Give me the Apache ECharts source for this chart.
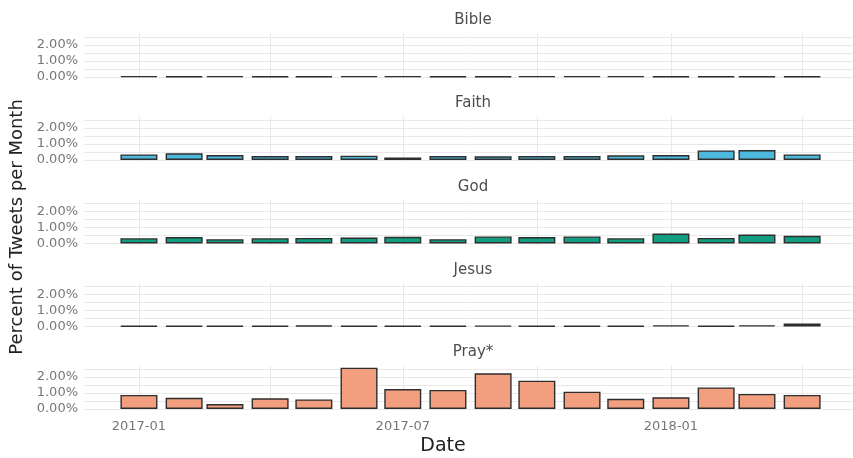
<!DOCTYPE html>
<html>
<head>
<meta charset="utf-8">
<script src="https://cdn.jsdelivr.net/npm/echarts@6/dist/echarts.min.js"></script>
<style>
  html, body { margin: 0; padding: 0; background: #fff; }
  #main { width: 853px; height: 458px; }
</style>
</head>
<body>
<div id="main"></div>
<script>
// months shown (one bar per month, centred on the 1st)
var months = ['2017-01', '2017-02', '2017-03', '2017-04', '2017-05', '2017-06', '2017-07', '2017-08',
  '2017-09', '2017-10', '2017-11', '2017-12', '2018-01', '2018-02', '2018-03', '2018-04'];

// percent of tweets per month, per keyword
var bible = [0.05, 0.04, 0.05, 0.04, 0.04, 0.05, 0.05, 0.04, 0.04, 0.05, 0.05, 0.05, 0.04, 0.04, 0.04, 0.03];
var faith = [0.35, 0.42, 0.31, 0.25, 0.25, 0.27, 0.15, 0.25, 0.23, 0.25, 0.25, 0.29, 0.31, 0.6, 0.62, 0.35];
var god = [0.33, 0.4, 0.27, 0.33, 0.35, 0.37, 0.42, 0.27, 0.44, 0.4, 0.44, 0.33, 0.62, 0.35, 0.56, 0.48];
var jesus = [0.04, 0.04, 0.04, 0.04, 0.06, 0.04, 0.04, 0.04, 0.05, 0.04, 0.04, 0.04, 0.08, 0.04, 0.08, 0.18];
var pray = [0.88, 0.7, 0.31, 0.67, 0.6, 2.58, 1.25, 1.19, 2.23, 1.77, 1.08, 0.64, 0.73, 1.35, 0.94, 0.88];

var panelNames = ['Bible', 'Faith', 'God', 'Jesus', 'Pray*'];
var panelData = [bible, faith, god, jesus, pray];
var panelColors = ['#8a8a8a', '#4cb8dc', '#129e80', '#26385a', '#f29f80'];

var yTicks = [0, 0.5, 1, 1.5, 2, 2.5];
var yLabels = [0, 1, 2];
var xTicks = ['2017-01', '2017-04', '2017-07', '2017-10', '2018-01', '2018-04'];
var xLabels = ['2017-01', '2017-07', '2018-01'];

// x is counted in days from 2017-01-01
var DAY = 86400000;
var T0 = Date.UTC(2017, 0, 1);
function toDay(m) {
  var p = m.split('-');
  return Math.round((Date.UTC(+p[0], +p[1] - 1, 1) - T0) / DAY);
}
function dayLabel(v) {
  var d = new Date(T0 + v * DAY);
  var mm = d.getUTCMonth() + 1;
  return d.getUTCFullYear() + '-' + (mm < 10 ? '0' + mm : mm);
}

var xMin = -37.7;
var xMax = xMin + 527.6;

var zeros = [77, 160, 243.5, 326.5, 409];
var pxPer = 16;
var yMin = -0.13, yMax = 2.71;
var FONT = 'DejaVu Sans';

var grids = [], xAxes = [], yAxes = [], series = [], titles = [];

panelNames.forEach(function (name, i) {
  var z = zeros[i];
  grids.push({
    left: 84,
    width: 769,
    top: z - yMax * pxPer,
    height: (yMax - yMin) * pxPer
  });
  titles.push({
    text: name,
    left: 468,
    textAlign: 'center',
    top: z - 69,
    textStyle: { fontFamily: FONT, fontSize: 15, fontWeight: 'normal', color: '#4d4d4d' }
  });
  xAxes.push({
    type: 'value',
    gridIndex: i,
    min: xMin,
    max: xMax,
    axisLine: { show: false },
    axisTick: { show: false, customValues: xTicks.map(toDay) },
    splitLine: { show: true, lineStyle: { color: '#e8e8e8', width: 1 } },
    axisLabel: {
      show: i === 4,
      customValues: xLabels.map(toDay),
      margin: 9,
      fontFamily: FONT,
      fontSize: 13,
      color: '#777',
      formatter: dayLabel
    }
  });
  yAxes.push({
    type: 'value',
    gridIndex: i,
    min: yMin,
    max: yMax,
    axisLine: { show: false },
    axisTick: { show: false, customValues: yTicks },
    splitLine: { show: true, lineStyle: { color: '#e8e8e8', width: 1 } },
    axisLabel: {
      customValues: yLabels,
      margin: 6,
      fontFamily: FONT,
      fontSize: 13,
      lineHeight: 13,
      color: '#777',
      formatter: function (v) { return v.toFixed(2) + '%'; }
    }
  });
  series.push({
    type: 'bar',
    name: name,
    xAxisIndex: i,
    yAxisIndex: i,
    barWidth: 37,
    itemStyle: { color: panelColors[i], borderColor: '#2e2e2e', borderWidth: 1.4 },
    data: months.map(function (m, k) { return [toDay(m), panelData[i][k]]; })
  });
});

var chart = echarts.init(document.getElementById('main'), null, { renderer: 'canvas' });
chart.setOption({
  animation: false,
  backgroundColor: '#fff',
  title: titles,
  grid: grids,
  xAxis: xAxes,
  yAxis: yAxes,
  series: series,
  graphic: [
    {
      type: 'text',
      x: 17,
      y: 227,
      rotation: Math.PI / 2,
      style: {
        text: 'Percent of Tweets per Month',
        fontFamily: FONT,
        fontSize: 18,
        fill: '#222',
        align: 'center',
        verticalAlign: 'middle'
      }
    },
    {
      type: 'text',
      x: 443,
      y: 446,
      style: {
        text: 'Date',
        fontFamily: FONT,
        fontSize: 19,
        fill: '#222',
        align: 'center',
        verticalAlign: 'middle'
      }
    }
  ]
});
</script>
</body>
</html>
